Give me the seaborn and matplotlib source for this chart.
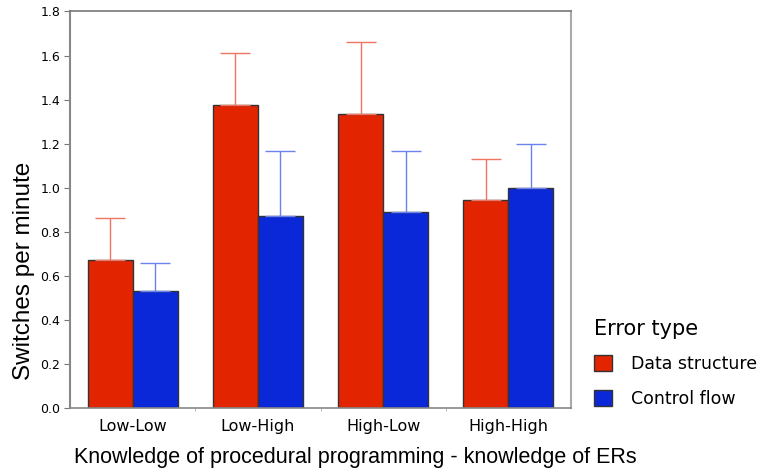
import matplotlib
matplotlib.use("Agg")
import matplotlib.pyplot as plt
import seaborn as sns
import pandas as pd
import numpy as np

categories = ["Low-Low", "Low-High", "High-Low", "High-High"]
error_types = ["Data structure", "Control flow"]
data_structure = [0.672, 1.375, 1.333, 0.943]
control_flow = [0.533, 0.872, 0.888, 0.997]
data_structure_upper = [0.861, 1.610, 1.660, 1.129]
control_flow_upper = [0.660, 1.165, 1.168, 1.200]
yticks = [0.0, 0.2, 0.4, 0.6, 0.8, 1.0, 1.2, 1.4, 1.6, 1.8]

bar_colors = {"Data structure": "#e32400", "Control flow": "#0a28d8"}
err_colors = {"Data structure": "#f07462", "Control flow": "#6a82ec"}

df = pd.DataFrame({
    "cat": categories * 2,
    "etype": [error_types[0]] * 4 + [error_types[1]] * 4,
    "val": data_structure + control_flow,
    "upper": data_structure_upper + control_flow_upper,
})

sns.set_style("white")
plt.rcParams["font.family"] = ["DejaVu Sans"]
plt.rcParams["text.color"] = "black"
plt.rcParams["axes.labelcolor"] = "black"

fig = plt.figure(figsize=(7.63, 4.73), dpi=100)
ax = fig.add_axes([70 / 763, 1 - 408 / 473, (571 - 70) / 763, (408 - 11.5) / 473])

sns.barplot(data=df, x="cat", y="val", hue="etype", order=categories,
            hue_order=error_types, palette=bar_colors, width=0.72,
            errorbar=None, edgecolor="#333333", linewidth=1.0, saturation=1,
            ax=ax)

# upper-only error bars, positioned from the drawn bars
for container, et in zip(ax.containers, error_types):
    sub = df[df["etype"] == et].set_index("cat").loc[categories]
    xs = [p.get_x() + p.get_width() / 2 for p in container.patches]
    ys = sub["val"].values
    up = sub["upper"].values - ys
    ax.errorbar(xs, ys, yerr=[np.zeros_like(up), up], fmt="none",
                ecolor=err_colors[et], elinewidth=1.0, capsize=11,
                capthick=1.0, zorder=1)

ax.set_xlim(-0.5, 3.5)
ax.set_ylim(0, 1.8)
ax.set_yticks(yticks)
ax.set_yticklabels([f"{v:.1f}" for v in yticks], fontsize=9)
ax.set_xticks(range(len(categories)))
ax.set_xticklabels(categories, fontsize=11.5)
ax.set_xticks([0.5, 1.5, 2.5], minor=True)
ax.tick_params(axis="x", which="major", length=0, pad=8, labelcolor="black")
ax.tick_params(axis="x", which="minor", length=2, color="#aaaaaa", bottom=True)
ax.tick_params(axis="y", which="major", length=4, color="#777777", left=True,
               pad=3, labelcolor="black")

for side, c, lw in [("top", "#777777", 1.2), ("left", "#888888", 1.5),
                    ("right", "#aaaaaa", 1.5), ("bottom", "#888888", 1.2)]:
    ax.spines[side].set_visible(True)
    ax.spines[side].set_color(c)
    ax.spines[side].set_linewidth(lw)

ax.set_xlabel("Knowledge of procedural programming - knowledge of ERs",
              fontsize=15.5, family=["Liberation Sans", "DejaVu Sans"],
              va="center", color="black")
ax.xaxis.set_label_coords((355 - 70) / 501, -(457 - 408) / 396.5)
ax.set_ylabel("Switches per minute", fontsize=17.5,
              family=["Liberation Sans", "DejaVu Sans"], va="center",
              color="black")
ax.yaxis.set_label_coords((24 - 70) / 501, (408 - 271) / 396.5)

handles, labels = ax.get_legend_handles_labels()
leg = ax.legend(handles, labels, title="Error type", loc="upper left",
                bbox_to_anchor=(578 / 763, 1 - 303 / 473),
                bbox_transform=fig.transFigure, frameon=False,
                fontsize=12.5, title_fontsize=15, handlelength=1.05,
                handleheight=1.05, handletextpad=1.1, labelspacing=0.95,
                alignment="left")
for t in leg.get_texts():
    t.set_color("black")
leg.get_title().set_color("black")

fig.savefig("out.png", dpi=100)
